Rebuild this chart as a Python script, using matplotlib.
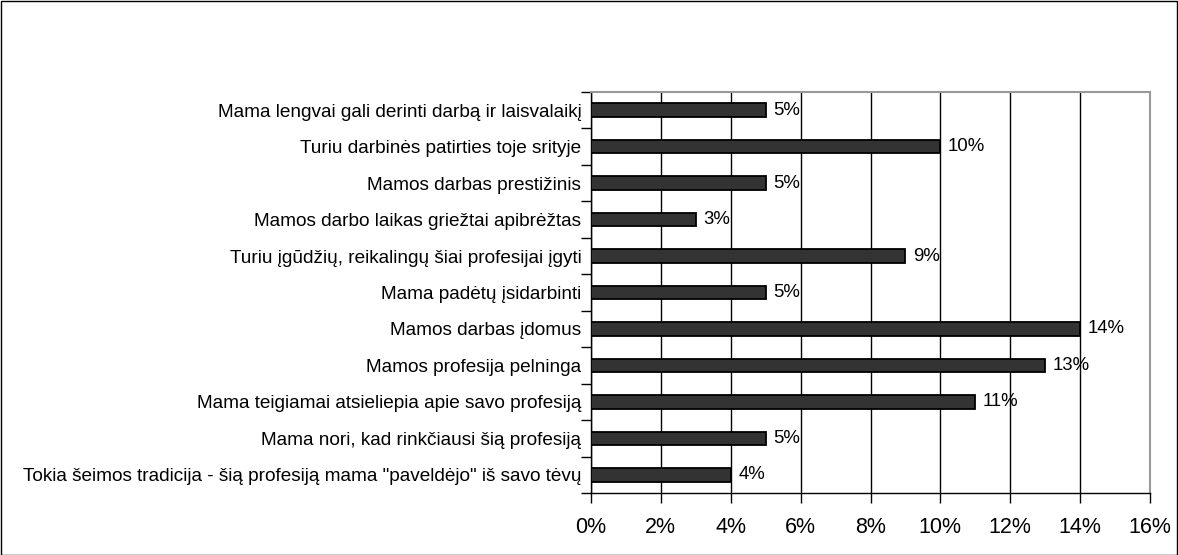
import numpy as np
import matplotlib.pyplot as plt
from matplotlib.patches import Rectangle

categories = [
    "Mama lengvai gali derinti darbą ir laisvalaikį",
    "Turiu darbinės patirties toje srityje",
    "Mamos darbas prestižinis",
    "Mamos darbo laikas griežtai apibrėžtas",
    "Turiu įgūdžių, reikalingų šiai profesijai įgyti",
    "Mama padėtų įsidarbinti",
    "Mamos darbas įdomus",
    "Mamos profesija pelninga",
    "Mama teigiamai atsieliepia apie savo profesiją",
    "Mama nori, kad rinkčiausi šią profesiją",
    "Tokia šeimos tradicija - šią profesiją mama \"paveldėjo\" iš savo tėvų",
]
values = [5, 10, 5, 3, 9, 5, 14, 13, 11, 5, 4]
xticks = [0, 2, 4, 6, 8, 10, 12, 14, 16]

plt.rcParams['font.family'] = ['Liberation Sans', 'DejaVu Sans']

fig = plt.figure(figsize=(11.78, 5.55), dpi=100)
ax = fig.add_axes([591 / 1178, 1 - 493 / 555, (1150 - 591) / 1178, (493 - 92) / 555])

y = np.arange(len(categories))
ax.barh(y, values, height=0.37, color='#333333', edgecolor='black', linewidth=1.3, zorder=3)
for yi, v in zip(y, values):
    ax.text(v + 0.22, yi, f"{v}%", va='center', ha='left', fontsize=13.4, zorder=4)

ax.set_xlim(0, 16)
ax.set_ylim(len(categories) - 0.5, -0.5)
ax.set_xticks(xticks)
ax.set_xticklabels([f"{t}%" for t in xticks], fontsize=15.5)
ax.set_yticks(y)
ax.set_yticklabels(categories, fontsize=13.7)
ax.tick_params(axis='y', length=0, pad=7)
ax.set_yticks(np.arange(len(categories) + 1) - 0.5, minor=True)
ax.tick_params(axis='y', which='minor', length=7, width=1, direction='out')
ax.tick_params(axis='x', length=7, width=1, direction='out', pad=10)
ax.grid(axis='x', color='black', linewidth=1, zorder=0)
ax.set_axisbelow(True)
for s in ['top', 'right']:
    ax.spines[s].set_color('#999999')
    ax.spines[s].set_linewidth(1.5)
for s in ['left', 'bottom']:
    ax.spines[s].set_color('black')
    ax.spines[s].set_linewidth(1)

fig.patches.append(Rectangle((0.5 / 1178, 0.5 / 555), 1 - 1.5 / 1178, 1 - 1.5 / 555,
                             transform=fig.transFigure, fill=False, edgecolor='black', linewidth=1))

fig.savefig('out.png', dpi=100)
